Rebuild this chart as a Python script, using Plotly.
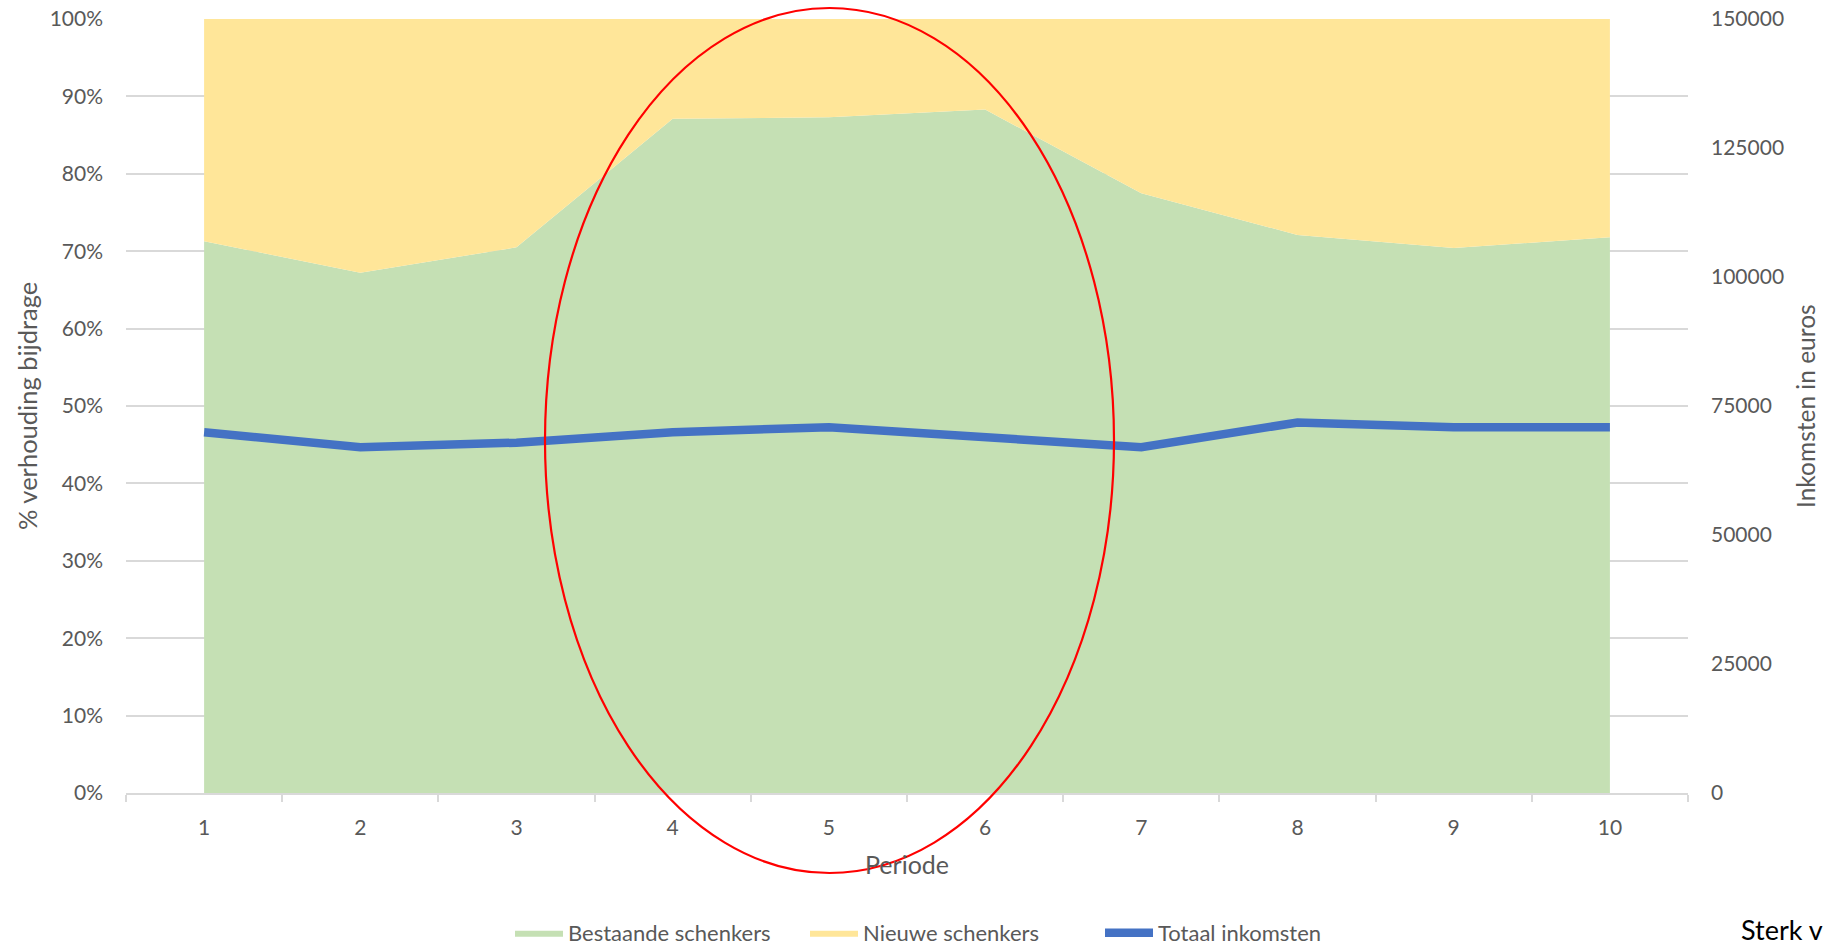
import plotly.graph_objects as go

# Data
perioden = ["1", "2", "3", "4", "5", "6", "7", "8", "9", "10"]
bestaande_pct = [71.3, 67.2, 70.5, 87.1, 87.3, 88.3, 77.5, 72.1, 70.4, 71.8]
nieuwe_pct = [round(100 - v, 1) for v in bestaande_pct]
totaal_inkomsten = [69900, 67000, 67900, 69900, 70900, 69000, 67000, 71800, 70900, 70900]
y_ticks = list(range(0, 101, 10))
y_ticktext = [f"{v}%" for v in y_ticks]
y2_ticks = list(range(0, 150001, 25000))
y2_ticktext = [str(v) for v in y2_ticks]

FONT = "Lato, Carlito, Calibri, 'Open Sans', sans-serif"
GREY = "#595959"
GRID = "#d9d9d9"

fig = go.Figure()
fig.add_trace(go.Scatter(
    x=perioden, y=bestaande_pct, name="Bestaande schenkers",
    stackgroup="one", mode="lines", line=dict(width=0, color="#C5E0B4"),
    fillcolor="#C5E0B4",
))
fig.add_trace(go.Scatter(
    x=perioden, y=nieuwe_pct, name="Nieuwe schenkers",
    stackgroup="one", mode="lines", line=dict(width=0, color="#FFE699"),
    fillcolor="#FFE699",
))
fig.add_trace(go.Scatter(
    x=perioden, y=totaal_inkomsten, name="Totaal inkomsten",
    mode="lines", line=dict(width=8.5, color="#4472C4"), yaxis="y2",
))

W, H = 1823, 945
L, R, T, B = 126, 135, 19, 152
pw = W - L - R
ph = H - T - B

def px_x(x):
    return (x - L) / pw

def px_y(y):
    return (H - B - y) / ph

fig.update_layout(
    template="none",
    width=W, height=H, autosize=False,
    margin=dict(l=L, r=R, t=T, b=B, pad=0),
    paper_bgcolor="white", plot_bgcolor="white",
    font=dict(family=FONT, size=21, color=GREY),
    showlegend=True,
    legend=dict(
        orientation="h", xref="container", yref="container",
        x=510 / W, xanchor="left", y=(H - 933) / H, yanchor="middle",
        font=dict(size=22, color=GREY), itemwidth=48, traceorder="normal",
        bgcolor="rgba(0,0,0,0)", tracegroupgap=0,
        entrywidth=232, entrywidthmode="pixels",
    ),
    xaxis=dict(
        type="category", categoryorder="array", categoryarray=perioden,
        range=[-0.5, 9.5], automargin=False,
        showgrid=False, zeroline=False,
        showline=True, linecolor=GRID, linewidth=1.5,
        ticks="outside", tickson="boundaries", ticklen=7, tickcolor=GRID, tickwidth=1.5,
        tickfont=dict(size=21, color=GREY), ticklabelstandoff=15,
    ),
    yaxis=dict(
        range=[0, 100], tickmode="array", tickvals=y_ticks, ticktext=y_ticktext,
        automargin=False,
        showgrid=True, gridcolor=GRID, gridwidth=1.5,
        zeroline=False, showline=False, ticks="",
        tickfont=dict(size=21, color=GREY), ticklabelstandoff=22,
    ),
    yaxis2=dict(
        overlaying="y", side="right", range=[0, 150000],
        tickmode="array", tickvals=y2_ticks, ticktext=y2_ticktext,
        automargin=False,
        showgrid=False, zeroline=False, showline=False, ticks="",
        tickfont=dict(size=21, color=GREY), ticklabelstandoff=22,
    ),
    annotations=[
        dict(text="Periode", xref="paper", yref="paper", x=0.5, y=px_y(864),
             xanchor="center", yanchor="middle", showarrow=False,
             font=dict(size=25, color=GREY)),
        dict(text="% verhouding bijdrage", xref="paper", yref="paper",
             x=px_x(27), y=0.5, textangle=-90, xanchor="center", yanchor="middle",
             showarrow=False, font=dict(size=25.5, color=GREY)),
        dict(text="Inkomsten in euros", xref="paper", yref="paper",
             x=px_x(1805), y=0.5, textangle=-90, xanchor="center", yanchor="middle",
             showarrow=False, font=dict(size=24.5, color=GREY)),
        dict(text="Sterk v", xref="paper", yref="paper", x=px_x(1739), y=px_y(929),
             xanchor="left", yanchor="middle", showarrow=False,
             font=dict(size=27, color="#000000")),
    ],
    shapes=[
        dict(type="circle", xref="paper", yref="paper",
             x0=px_x(545), x1=px_x(1114), y0=px_y(873), y1=px_y(8),
             line=dict(color="#FF0000", width=2.2), fillcolor="rgba(0,0,0,0)",
             layer="above"),
    ],
)

fig.write_html(
    "out.html",
    config={"displayModeBar": False},
    post_script="document.body.style.margin='0';document.body.style.overflow='hidden';",
)
